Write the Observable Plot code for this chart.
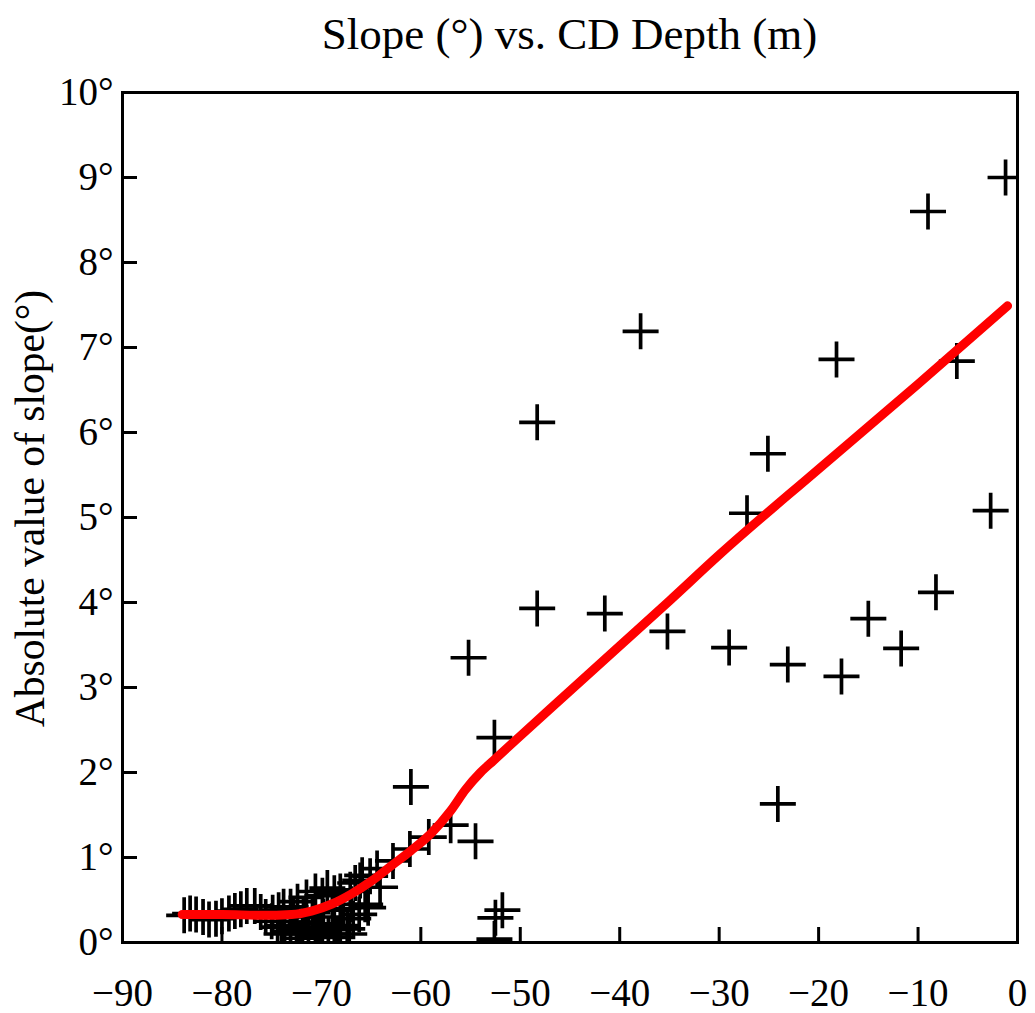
<!DOCTYPE html>
<html>
<head>
<meta charset="utf-8">
<script src="https://cdn.jsdelivr.net/npm/d3@7"></script>
<script src="https://cdn.jsdelivr.net/npm/@observablehq/plot@0.6"></script>
<style>
  html, body { margin: 0; padding: 0; background: white; }
  #title { width: 895px; margin-left: 122px; height: 70px; line-height: 68px; text-align: center;
           font-family: "Liberation Serif", "DejaVu Serif", serif; font-size: 45px; color: black; }
  svg { display: block; }
</style>
</head>
<body>
<div id="title">Slope (°) vs. CD Depth (m)</div>
<div id="chart"></div>
<script>
// Survey points: CD depth (m) and absolute slope (degrees)
const depth = [
  -1.2, -9.0, -37.9, -48.3, -18.2, -6.1, -25.1, -27.2, -2.7, -8.2,
  -48.3, -41.5, -15.0, -35.2, -29.0, -11.7, -23.1, -17.7, -24.1, -55.2,
  -52.6, -61.0, -59.2, -57.0, -54.5, -61.1, -51.8, -52.5, -52.6,
  -62.8, -64.4, -65.9, -64.1, -65.3,
  -83.8, -83.2, -82.6, -81.9, -81.3, -80.6, -80.0, -79.3, -78.7, -78.1,
  -77.5, -76.7, -76.1, -75.6, -74.9, -74.3, -73.8, -73.1, -72.4, -71.5,
  -70.6, -69.9, -69.4, -68.7, -68.1, -67.1, -66.6, -66.1, -65.1,
  -75.0, -74.4, -73.7, -73.1, -72.5, -71.9, -71.3, -70.6, -70.0, -69.3,
  -68.7, -68.1, -67.4, -66.8, -66.2, -65.6,
  -72.8, -71.8, -70.9, -69.8, -68.9, -67.8, -67.0,
  -74.0, -72.2, -71.6, -70.3, -69.9, -68.4, -67.2
];
const slope = [
  9.0, 8.6, 7.19, 6.12, 6.86, 6.84, 5.75, 5.05, 5.08, 4.12,
  3.93, 3.87, 3.81, 3.66, 3.47, 3.46, 3.27, 3.13, 1.63, 3.35,
  2.41, 1.83, 1.24, 1.38, 1.19, 1.1, 0.38, 0.29, 0.04,
  0.96, 0.87, 0.79, 0.65, 0.41,
  0.32, 0.34, 0.33, 0.30, 0.27, 0.28, 0.31, 0.34, 0.37, 0.39,
  0.43, 0.43, 0.36, 0.30, 0.35, 0.38, 0.42, 0.42, 0.48, 0.53,
  0.60, 0.55, 0.64, 0.58, 0.60, 0.62, 0.70, 0.73, 0.78,
  0.25, 0.18, 0.20, 0.13, 0.17, 0.10, 0.15, 0.12, 0.18, 0.10,
  0.15, 0.20, 0.16, 0.28, 0.33, 0.45,
  0.30, 0.33, 0.35, 0.30, 0.38, 0.40, 0.45,
  0.10, 0.05, 0.24, 0.08, 0.22, 0.06, 0.10
];

// Smoothed fit (red curve)
const fitDepth = [-84, -80, -76, -73, -71, -69, -67, -65, -63, -61, -59, -57, -55.5, -54, -52.7, -50, -45, -40, -35, -30, -20, -10, -1];
const fitSlope = [0.33, 0.33, 0.32, 0.33, 0.37, 0.45, 0.57, 0.72, 0.9, 1.08, 1.28, 1.55, 1.8, 2.0, 2.14, 2.43, 2.96, 3.49, 4.02, 4.56, 5.57, 6.57, 7.49];

const xTicks = [-90, -80, -70, -60, -50, -40, -30, -20, -10, 0];
const yTicks = [0, 1, 2, 3, 4, 5, 6, 7, 8, 9, 10];
const yLabel = ["Absolute value of slope(°)"];

const points = depth.map((d, i) => ({depth: d, slope: slope[i]}));
const fit = fitDepth.map((d, i) => ({depth: d, slope: fitSlope[i]}));

const plusSymbol = {
  draw(ctx, size) {
    const r = Math.sqrt(size / Math.PI);
    ctx.moveTo(-r, 0); ctx.lineTo(r, 0);
    ctx.moveTo(0, -r); ctx.lineTo(0, r);
  }
};

const fmtX = d => d < 0 ? "\u2212" + Math.abs(d) : String(d);
const fmtY = d => d + "°";

const chart = Plot.plot({
  width: 1035,
  height: 943,
  marginLeft: 122,
  marginRight: 18,
  marginTop: 22,
  marginBottom: 71,
  style: {fontFamily: "Liberation Serif", fontSize: "39px", background: "white", color: "black"},
  x: {domain: [-90, 0]},
  y: {domain: [0, 10]},
  marks: [
    Plot.dot(points, {x: "depth", y: "slope", symbol: plusSymbol, r: 18, stroke: "black", strokeWidth: 3.7, fill: "none", clip: true}),
    Plot.line(fit, {x: "depth", y: "slope", stroke: "#ff0000", strokeWidth: 9, curve: "monotone-x", strokeLinecap: "round"}),
    Plot.axisX({ticks: xTicks, tickFormat: fmtX, tickSize: -15, tickPadding: 51, strokeWidth: 3, fontSize: 39, label: null}),
    Plot.axisY({ticks: yTicks, tickFormat: fmtY, tickSize: -15, tickPadding: 24, strokeWidth: 3, fontSize: 39, label: null}),
    Plot.text(yLabel, {text: d => d, frameAnchor: "left", textAnchor: "middle", lineAnchor: "middle", rotate: -90, dx: -92, dy: -9, fontSize: 41.5, fill: "black"}),
    Plot.frame({stroke: "black", strokeWidth: 3})
  ]
});
document.getElementById("chart").appendChild(chart);
</script>
</body>
</html>
